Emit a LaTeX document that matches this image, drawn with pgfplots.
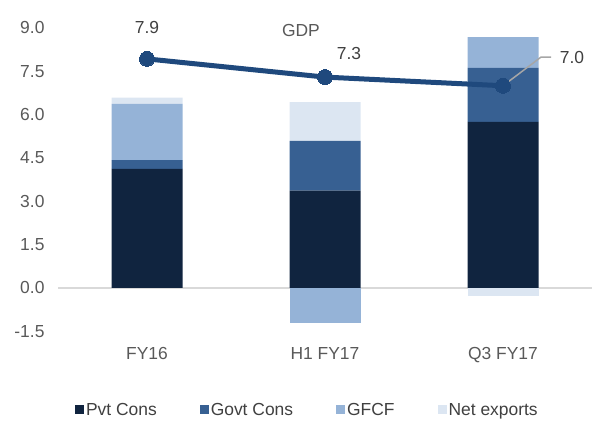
\documentclass[border=0pt]{standalone}
\usepackage{fontspec}
\setmainfont{Liberation Sans}
\usepackage{pgfplots}
\pgfplotsset{compat=1.18}
\definecolor{pvt}{HTML}{10243F}
\definecolor{govt}{HTML}{376092}
\definecolor{gfcf}{HTML}{95B3D7}
\definecolor{nex}{HTML}{DCE6F2}
\definecolor{gdp}{HTML}{1F497D}
\definecolor{tickgray}{HTML}{595959}
\definecolor{labgray}{HTML}{404040}
\definecolor{zerogray}{HTML}{D9D9D9}
\definecolor{leadgray}{HTML}{A6A6A6}
\newcommand{\chartfont}{\fontsize{17.5}{20}\selectfont}
\begin{document}
\begin{tikzpicture}
\pgfplotsset{base/.style={width=534bp,height=303.3bp,scale only axis,
  xmin=-0.5,xmax=2.5,ymin=-1.5,ymax=9,at={(0,0)},anchor=south west}}
\path[use as bounding box] (-58bp,-92.7bp) rectangle (536bp,331.3bp);
\begin{axis}[base, ybar stacked, bar width=71bp,
  axis line style={draw=none}, major tick length=0pt,
  xtick={0,1,2}, xticklabels={FY16,H1 FY17,Q3 FY17},
  ytick={-1.5,0,1.5,3,4.5,6,7.5,9},
  yticklabels={-1.5,0.0,1.5,3.0,4.5,6.0,7.5,9.0},
  tick label style={font=\chartfont, text=tickgray},
  yticklabel style={xshift=-10bp},
  xticklabel style={yshift=-13bp},
  legend style={at={(0.467,-0.259)}, anchor=center, draw=none, fill=none,
    legend columns=-1, font=\chartfont, text=labgray, inner sep=0pt,
    /tikz/every even column/.append style={column sep=41bp}},
  legend image code/.code={\fill[#1] (0bp,-4.5bp) rectangle (9bp,4.5bp);},
]
\addplot[fill=gfcf, draw=none, forget plot] coordinates {(0,0) (1,-1.22) (2,0)};
\addplot[fill=nex, draw=none, forget plot] coordinates {(0,0) (1,0) (2,-0.27)};
\addplot[fill=pvt, draw=none] coordinates {(0,4.12) (1,3.37) (2,5.75)};
\addplot[fill=govt, draw=none] coordinates {(0,0.31) (1,1.72) (2,1.87)};
\addplot[fill=gfcf, draw=none] coordinates {(0,1.94) (1,0) (2,1.06)};
\addplot[fill=nex, draw=none] coordinates {(0,0.22) (1,1.34) (2,0)};
\legend{Pvt Cons, Govt Cons, GFCF, Net exports}
\draw[zerogray, line width=1.5bp] (axis cs:-0.5,0) -- (axis cs:2.5,0);
\end{axis}
\begin{axis}[base, hide axis, clip=false]
\addplot[gdp, line width=5bp, mark=*, mark size=7.5bp, mark options={fill=gdp, draw=gdp, line width=0pt}]
  coordinates {(0,7.93) (1,7.3) (2,7.0)};
\draw[leadgray, line width=1.5bp] (axis cs:2,7.0) -- (axis cs:2.213,7.99) -- (axis cs:2.27,7.99);
\node[font=\chartfont, text=labgray] at (axis cs:0,9.0) {7.9};
\node[font=\chartfont, text=labgray] at (axis cs:1.135,8.13) {7.3};
\node[font=\chartfont, text=labgray] at (axis cs:2.388,7.99) {7.0};
\node[font=\chartfont, text=tickgray] at (axis cs:0.865,8.93) {GDP};
\end{axis}
\end{tikzpicture}
\end{document}
